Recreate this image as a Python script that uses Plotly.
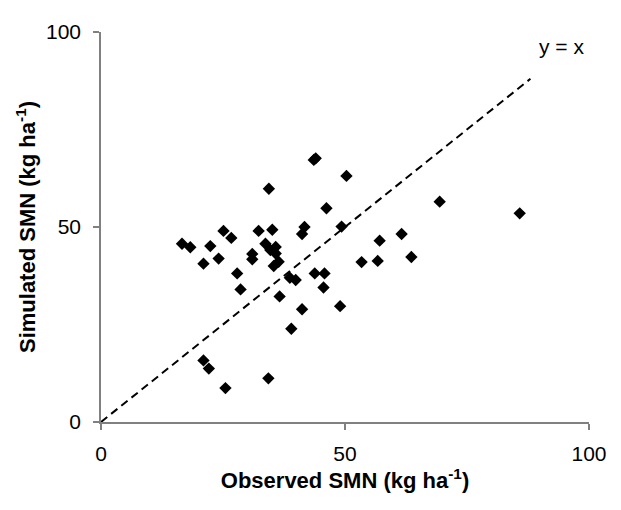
import plotly.graph_objects as go

# observed vs simulated SMN (kg ha-1)
observed = [43.6, 44.0, 50.3, 34.4, 46.2, 25.1, 26.7, 32.3, 35.1, 41.7, 41.2, 49.3,
            16.6, 18.3, 22.4, 21.0, 24.1, 31.0, 31.0, 33.7, 35.8, 34.7, 35.8, 36.4,
            35.4, 27.9, 28.6, 38.7, 39.9, 43.8, 45.8, 45.6, 36.6, 41.2, 49.0, 39.0,
            21.0, 22.1, 25.5, 34.3, 69.4, 61.6, 57.1, 63.6, 53.4, 56.7, 85.8]
simulated = [67.2, 67.6, 63.1, 59.8, 54.8, 49.0, 47.2, 49.0, 49.3, 50.0, 48.2, 50.1,
             45.7, 44.8, 45.1, 40.6, 41.9, 43.1, 41.7, 45.7, 44.9, 44.1, 43.2, 41.1,
             40.0, 38.1, 34.0, 37.0, 36.4, 38.1, 38.1, 34.5, 32.2, 28.9, 29.7, 23.9,
             15.8, 13.7, 8.7, 11.2, 56.5, 48.2, 46.5, 42.3, 41.0, 41.3, 53.5]

# 1:1 line
line_x = [0, 88]
line_y = [0, 88]

fig = go.Figure()

fig.add_trace(go.Scatter(
    x=line_x, y=line_y, mode="lines",
    line=dict(color="black", width=2, dash="8px,5px"),
    showlegend=False, hoverinfo="skip"
))

fig.add_trace(go.Scatter(
    x=observed, y=simulated, mode="markers",
    marker=dict(symbol="diamond", size=9.5, color="black"),
    showlegend=False
))

fig.add_annotation(x=94.3, y=96.3, text="y = x", showarrow=False,
                   font=dict(size=21, color="black"))

axis_style = dict(
    range=[0, 100], tickvals=[0, 50, 100],
    showgrid=False, zeroline=False,
    showline=True, linecolor="#808080", linewidth=1.5,
    ticks="outside", ticklen=6, tickcolor="#808080", tickwidth=1.5,
    tickfont=dict(size=21, color="black"),
)

fig.update_xaxes(**axis_style, ticklabelstandoff=6,
                 title=dict(text="<b>Observed SMN (kg ha<sup>-1</sup>)</b>",
                            font=dict(size=22, color="black"), standoff=1))
fig.update_yaxes(**axis_style, ticklabelstandoff=8,
                 title=dict(text="<b>Simulated SMN (kg ha<sup>-1</sup>)</b>",
                            font=dict(size=22, color="black"), standoff=4))

# the page body adds 8px, so margins are set to put the plot area where the reference has it
fig.update_layout(
    width=621, height=510,
    margin=dict(l=93, r=40, t=18, b=96),
    plot_bgcolor="white", paper_bgcolor="white",
    font=dict(family="Liberation Sans, Arial, sans-serif"),
)

fig.write_html("out.html")
